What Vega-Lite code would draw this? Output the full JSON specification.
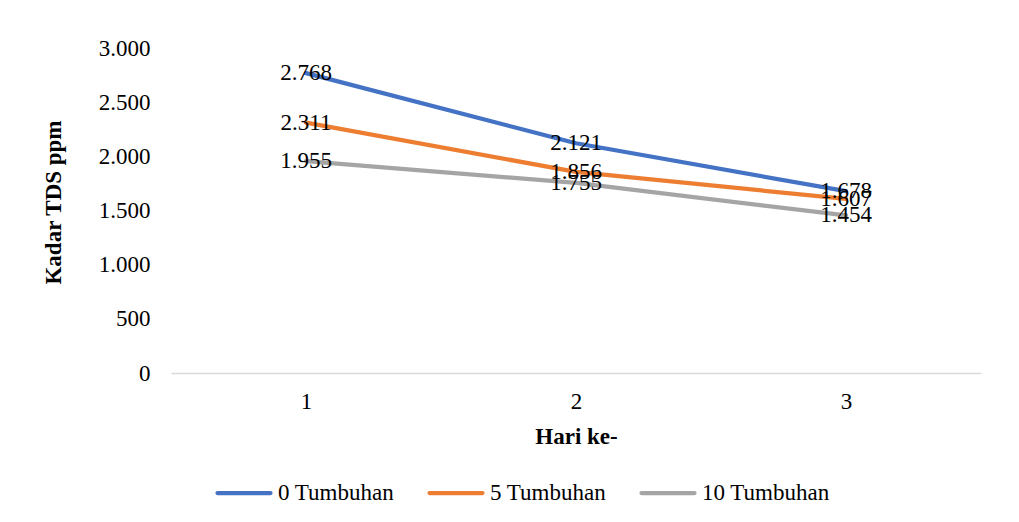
{
  "$schema": "https://vega.github.io/schema/vega-lite/v6.json",
  "width": 810,
  "height": 325,
  "autosize": {"type": "none"},
  "padding": {"left": 171, "top": 48, "right": 38, "bottom": 149},
  "background": "white",
  "config": {
    "view": {"stroke": null},
    "locale": {"number": {"decimal": ",", "thousands": ".", "grouping": [3], "currency": ["Rp", ""]}}
  },
  "data": {
    "values": [
      {"hari": "1", "seri": "0 Tumbuhan", "tds": 2768},
      {"hari": "2", "seri": "0 Tumbuhan", "tds": 2121},
      {"hari": "3", "seri": "0 Tumbuhan", "tds": 1678},
      {"hari": "1", "seri": "5 Tumbuhan", "tds": 2311},
      {"hari": "2", "seri": "5 Tumbuhan", "tds": 1856},
      {"hari": "3", "seri": "5 Tumbuhan", "tds": 1607},
      {"hari": "1", "seri": "10 Tumbuhan", "tds": 1955},
      {"hari": "2", "seri": "10 Tumbuhan", "tds": 1755},
      {"hari": "3", "seri": "10 Tumbuhan", "tds": 1454}
    ]
  },
  "encoding": {
    "x": {
      "field": "hari",
      "type": "ordinal",
      "scale": {"type": "point", "padding": 0.5},
      "axis": {
        "title": "Hari ke-",
        "labelAngle": 0,
        "domainColor": "#D9D9D9",
        "domainWidth": 1.5,
        "ticks": false,
        "grid": false,
        "labelPadding": 17,
        "labelFont": "Liberation Serif",
        "labelFontSize": 23,
        "labelColor": "black",
        "titleFont": "Liberation Serif",
        "titleFontSize": 23,
        "titleFontWeight": "bold",
        "titleColor": "black",
        "titleY": 70,
        "titleBaseline": "alphabetic"
      }
    },
    "y": {
      "field": "tds",
      "type": "quantitative",
      "scale": {"domain": [0, 3000]},
      "axis": {
        "title": "Kadar TDS ppm",
        "values": [0, 500, 1000, 1500, 2000, 2500, 3000],
        "format": ",.0f",
        "grid": false,
        "domain": false,
        "ticks": false,
        "labelPadding": 21,
        "labelFont": "Liberation Serif",
        "labelFontSize": 23,
        "labelColor": "black",
        "titleFont": "Liberation Serif",
        "titleFontSize": 23,
        "titleFontWeight": "bold",
        "titleColor": "black",
        "titleX": -118,
        "titleY": 154,
        "titleAngle": -90,
        "titleAlign": "center",
        "titleBaseline": "middle"
      }
    }
  },
  "layer": [
    {
      "mark": {"type": "line", "strokeWidth": 4.25, "strokeCap": "round", "strokeJoin": "round"},
      "encoding": {
        "color": {
          "field": "seri",
          "type": "nominal",
          "scale": {"domain": ["0 Tumbuhan", "5 Tumbuhan", "10 Tumbuhan"], "range": ["#4472C4", "#ED7D31", "#A5A5A5"]},
          "legend": {
            "orient": "none",
            "legendX": 44,
            "legendY": 416,
            "direction": "horizontal",
            "title": null,
            "symbolType": "stroke",
            "symbolSize": 2809,
            "symbolStrokeWidth": 4.25,
            "labelFont": "Liberation Serif",
            "labelFontSize": 23,
            "labelColor": "black",
            "labelOffset": 5,
            "labelLimit": 0,
            "columnPadding": 26,
            "encode": {"symbols": {"update": {"strokeCap": {"value": "round"}}}}
          }
        }
      }
    },
    {
      "mark": {"type": "text", "font": "Liberation Serif", "fontSize": 23, "color": "black", "align": "center", "baseline": "middle"},
      "encoding": {
        "text": {"field": "tds", "type": "quantitative", "format": ",.0f"}
      }
    }
  ]
}
